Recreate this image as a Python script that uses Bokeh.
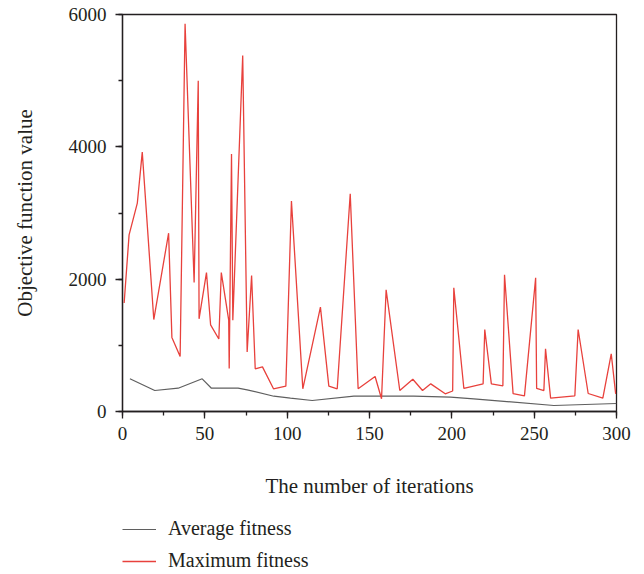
from bokeh.plotting import figure
from bokeh.layouts import column
from bokeh.models import Legend, LegendItem, SingleIntervalTicker, Range1d
from bokeh.embed import file_html
from bokeh.resources import INLINE

# ---- data ----
iter_max = [1, 4, 9, 12, 19, 28, 30, 35, 38, 43.5, 46, 46.5, 51, 53.5, 58.5, 60,
            64.5, 64.8, 66.2, 67, 73, 75.7, 78.4, 80.6, 85, 91.7, 99.2, 102.6,
            109.5, 120.2, 125.3, 130.4, 138.3, 143.1, 153.4, 157.3, 160.1, 168.4,
            176.3, 182.2, 187.2, 196, 200.5, 201.2, 207.3, 219, 220, 224, 231, 232,
            237.2, 244.1, 250.9, 251.5, 255.9, 256.9, 260, 274.7, 276.7, 282.8,
            291.7, 296.8, 299.5]
max_fitness = [1640, 2670, 3150, 3920, 1390, 2695, 1120, 830, 5860, 1950, 5000, 1400,
               2100, 1310, 1095, 2100, 1380, 650, 3890, 1380, 5380, 900, 2055, 645,
               675, 343, 383, 3180, 343, 1577, 383, 343, 3290, 343, 529, 192, 1839,
               317, 488, 317, 418, 267, 310, 1870, 348, 418, 1239, 418, 388, 2066,
               270, 237, 2020, 348, 317, 947, 201, 237, 1239, 272, 201, 872, 267]

iter_avg = [4.5, 19.6, 33.8, 48.4, 54, 70.2, 75.7, 91.9, 102, 115.2, 140.5, 176.9,
            199.2, 213.3, 262, 300]
avg_fitness = [494, 317, 352, 494, 352, 352, 328, 231, 201, 166, 231, 231, 216, 192,
               91, 121]

series_names = ["Average fitness", "Maximum fitness"]

x_tick_step = 50
y_tick_step = 2000
x_limits = (0, 300)
y_limits = (0, 6000)

FONT = "Liberation Serif"
RED = "#e8413c"
GRAY = "#5f5f5f"
INK = "#231f20"

p = figure(width=640, height=512, output_backend="svg", toolbar_location=None,
           x_range=Range1d(*x_limits), y_range=Range1d(*y_limits),
           min_border_left=122, min_border_right=24, min_border_top=14,
           min_border_bottom=101, background_fill_color="white",
           border_fill_color="white")

p.xgrid.visible = False
p.ygrid.visible = False
p.outline_line_color = INK
p.outline_line_width = 1.3

p.xaxis.ticker = SingleIntervalTicker(interval=x_tick_step, num_minor_ticks=2)
p.yaxis.ticker = SingleIntervalTicker(interval=y_tick_step, num_minor_ticks=2)

for ax in (p.xaxis[0], p.yaxis[0]):
    ax.axis_line_color = INK
    ax.axis_line_width = 1.3
    ax.major_tick_line_color = INK
    ax.minor_tick_line_color = INK
    ax.major_tick_line_width = 1.3
    ax.minor_tick_line_width = 1.3
    ax.major_tick_in = 0
    ax.major_tick_out = 7
    ax.minor_tick_in = 0
    ax.minor_tick_out = 4
    ax.major_label_text_font = FONT
    ax.major_label_text_font_size = "19px"
    ax.major_label_text_color = INK
    ax.axis_label_text_font = FONT
    ax.axis_label_text_font_size = "21px"
    ax.axis_label_text_font_style = "normal"
    ax.axis_label_text_color = INK

p.xaxis.axis_label = "The number of iterations"
p.yaxis.axis_label = "Objective function value"
p.xaxis.major_label_standoff = 8
p.xaxis.axis_label_standoff = 31
p.yaxis.major_label_standoff = 9
p.yaxis.axis_label_standoff = 29

p.line(iter_avg, avg_fitness, line_color=GRAY, line_width=1.2)
p.line(iter_max, max_fitness, line_color=RED, line_width=1.3)

# legend strip below the chart: same series, drawn outside this strip's view
q = figure(width=640, height=62, output_backend="svg", toolbar_location=None,
           x_axis_type=None, y_axis_type=None, x_range=Range1d(-2, -1),
           y_range=Range1d(-2, -1), min_border_left=0, min_border_right=0,
           min_border_top=0, min_border_bottom=0, outline_line_color=None,
           background_fill_color="white", border_fill_color="white")
k_avg = q.line(iter_avg, avg_fitness, line_color=GRAY, line_width=1.2)
k_max = q.line(iter_max, max_fitness, line_color=RED, line_width=1.3)
legend = Legend(items=[LegendItem(label=series_names[0], renderers=[k_avg]),
                       LegendItem(label=series_names[1], renderers=[k_max])],
                location=(0, 2), orientation="vertical",
                label_text_font=FONT, label_text_font_size="20px",
                label_text_color=INK, glyph_width=34, glyph_height=20,
                label_height=20, spacing=9, label_standoff=12,
                padding=0, margin=0, border_line_color=None,
                background_fill_alpha=0)
q.add_layout(legend, "center")

layout = column(p, q, spacing=0)
open("out.html", "w").write(file_html(layout, INLINE))
